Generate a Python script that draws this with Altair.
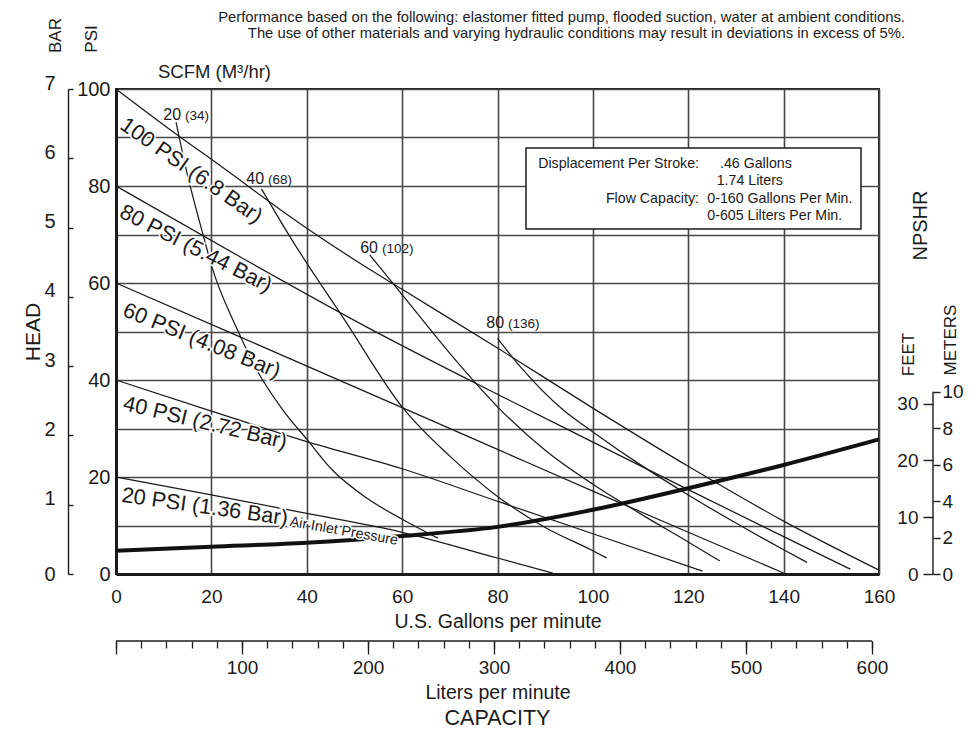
import altair as alt
import pandas as pd

FONT = "Liberation Sans"
INK = "#1b1b1b"
GRID = "#474747"
W, H = 763, 485

# ---------------- axis values ----------------
gpm_ticks = [0, 20, 40, 60, 80, 100, 120, 140, 160]
psi_grid = [0, 10, 20, 30, 40, 50, 60, 70, 80, 90, 100]
bar_ticks = [0, 1, 2, 3, 4, 5, 6, 7]
feet_ticks = [0, 10, 20, 30]
meter_ticks = [0, 2, 4, 6, 8, 10]
liter_major = [0, 100, 200, 300, 400, 500, 600]
liter_minor = [0, 20, 40, 60, 80, 100, 120, 140, 160, 180, 200, 220, 240, 260, 280, 300,
               320, 340, 360, 380, 400, 420, 440, 460, 480, 500, 520, 540, 560, 580, 600]

# ---------------- air inlet pressure curves (GPM, PSI head) ----------------
p100_gpm = [0, 13.3, 20, 40, 50, 60, 80, 100, 120, 140, 160]
p100_psi = [100, 90.2, 85.5, 71.3, 64.8, 58.7, 46.6, 34.2, 22.2, 10.9, 0.8]
p80_gpm = [0, 26, 53.2, 80.5, 100, 120, 140, 154]
p80_psi = [80, 65.4, 50.6, 36.8, 27.2, 17.4, 7.7, 1.0]
p60_gpm = [0, 26, 60, 80, 100, 120, 140]
p60_psi = [60, 48.9, 34.3, 25.7, 17.1, 8.6, 0.2]
p40_gpm = [0, 20, 40, 60, 80, 100, 123]
p40_psi = [40, 33.6, 27.3, 21.7, 15.0, 8.3, 0.6]
p20_gpm = [0, 20, 40, 60, 80, 91.6]
p20_psi = [20, 16.3, 12.5, 8.6, 3.3, 0.2]
pressure_labels = ["100 PSI (6.8 Bar)", "80 PSI (5.44 Bar)", "60 PSI (4.08 Bar)",
                   "40 PSI (2.72 Bar)", "20 PSI (1.36 Bar)"]

# ---------------- air consumption curves SCFM (GPM, PSI head) ----------------
a20_gpm = [12.6, 14.7, 18.3, 20, 25.3, 29.5, 35, 40, 45, 52.8, 60, 67.5]
a20_psi = [93.1, 83.5, 69.8, 63.7, 50.7, 42.1, 33.8, 27.8, 21.8, 15.5, 11.3, 7.4]
a40_gpm = [30.5, 36.5, 48, 60.2, 70, 80, 90, 100, 102.9]
a40_psi = [79.4, 69.5, 52.3, 34.2, 24.3, 16.0, 9.6, 4.8, 3.3]
a60_gpm = [53.2, 60, 70, 80.5, 90, 100, 110, 120, 126.6]
a60_psi = [65.8, 57.6, 45.5, 34.0, 25.5, 18.5, 12.4, 6.6, 2.7]
a80_gpm = [80, 85, 93.8, 100, 110, 120, 130, 140, 144.9]
a80_psi = [48.6, 42.5, 33.8, 29.3, 22.5, 16.3, 10.5, 5.0, 2.4]
scfm_values = ["20", "40", "60", "80"]
m3hr_values = ["(34)", "(68)", "(102)", "(136)"]

# ---------------- NPSHR curve (GPM, feet) ----------------
npshr_gpm = [0, 20, 40, 60, 80, 100, 120, 140, 160]
npshr_ft = [4.1, 4.8, 5.5, 6.7, 8.3, 11.3, 15.1, 19.2, 23.7]

# ---------------- text ----------------
note_1 = "Performance based on the following: elastomer fitted pump, flooded suction, water at ambient conditions."
note_2 = "The use of other materials and varying hydraulic conditions may result in deviations in excess of 5%."
box_keys = ["Displacement Per Stroke:", "Flow Capacity:"]
box_vals = [".46 Gallons", "1.74 Liters", "0-160 Gallons Per Min.", "0-605 Lilters Per Min."]

# ---------------- build tables ----------------
pressure_sets = [(p100_gpm, p100_psi), (p80_gpm, p80_psi), (p60_gpm, p60_psi),
                 (p40_gpm, p40_psi), (p20_gpm, p20_psi)]
air_sets = [(a20_gpm, a20_psi), (a40_gpm, a40_psi), (a60_gpm, a60_psi), (a80_gpm, a80_psi)]
rows = []
for name, (gs, ps) in zip(pressure_labels + scfm_values, pressure_sets + air_sets):
    for i, (g, p) in enumerate(zip(gs, ps)):
        rows.append({"curve": name, "gpm": g, "psi": p, "idx": i})
curves_df = pd.DataFrame(rows)
npshr_df = pd.DataFrame({"gpm": npshr_gpm, "ft": npshr_ft})

gpm_scale = alt.Scale(domain=[0, 160], nice=False)
psi_scale = alt.Scale(domain=[0, 100], nice=False)
feet_scale = alt.Scale(domain=[0, 85.4], nice=False)
meter_scale = alt.Scale(domain=[0, 26.6], nice=False)
bar_scale = alt.Scale(domain=[0, 7], nice=False)
liter_scale = alt.Scale(domain=[0, 160 * 3.785], nice=False)

gpm_axis = alt.Axis(values=gpm_ticks, grid=True, gridColor=GRID, gridWidth=1.6,
                    ticks=False, domain=True, domainColor=INK, domainWidth=3,
                    labelFontSize=19, labelPadding=13, labelFlush=False, labelOverlap=False,
                    title="U.S. Gallons per minute", titleFontSize=19.5,
                    titleY=47, titleBaseline="middle")
psi_axis = alt.Axis(values=psi_grid, labelExpr="datum.value % 20 === 0 ? datum.label : ''",
                    grid=True, gridColor=GRID, gridWidth=1.6, ticks=False,
                    domain=True, domainColor=INK, domainWidth=3,
                    labelFontSize=20, labelPadding=6, labelOverlap=False, labelFlush=False,
                    title="HEAD", titleFontSize=21, titleX=-83, titleY=H / 2,
                    titleAngle=270, titleAlign="center", titleBaseline="middle")

lines = alt.Chart(curves_df).mark_line(color=INK, strokeWidth=1.25, interpolate="monotone").encode(
    x=alt.X("gpm:Q", scale=gpm_scale, axis=gpm_axis),
    y=alt.Y("psi:Q", scale=psi_scale, axis=psi_axis),
    detail="curve:N", order="idx:Q")

layers = [lines]

# NPSHR curve with FEET axis
feet_axis = alt.Axis(orient="left", offset=-(W + 54), values=feet_ticks, tickSize=10, tickWidth=1.4,
                     tickColor=INK, labelPadding=5, labelFontSize=19, domain=False, grid=False,
                     labelOverlap=False, title="NPSHR", titleFontSize=20, titleX=-13, titleY=136,
                     titleAngle=270, titleAlign="center", titleBaseline="middle")
layers.append(alt.Chart(npshr_df).mark_line(color="#111111", strokeWidth=4, interpolate="monotone").encode(
    x=alt.X("gpm:Q", scale=gpm_scale, axis=None),
    y=alt.Y("ft:Q", scale=feet_scale, axis=feet_axis)))


def line_label(gpm, psi, text, size, ang, dx, dy):
    d = pd.DataFrame({"gpm": [gpm], "psi": [psi], "t": [text]})
    enc = dict(x=alt.X("gpm:Q", scale=gpm_scale, axis=None),
               y=alt.Y("psi:Q", scale=psi_scale, axis=None), text="t:N")
    common = dict(font=FONT, fontSize=size, align="left", baseline="top", angle=ang, dx=dx, dy=dy)
    halo = alt.Chart(d).mark_text(fill="white", stroke="white", strokeWidth=3, **common).encode(**enc)
    ink = alt.Chart(d).mark_text(color=INK, **common).encode(**enc)
    return [halo, ink]


# pressure labels, placed along each line from its starting point: (angle, dx, dy)
label_style = [(35, 24.7, 13.3), (27, 15.8, 9.3), (22, 17.4, 11.1), (13.5, 12.9, 10.5), (8, 8.3, 6.9)]
for text, (gs, ps), (ang, dx, dy) in zip(pressure_labels, pressure_sets, label_style):
    layers += line_label(gs[0], ps[0], text, 21.7, ang, dx, dy)
layers += line_label(p20_gpm[0], p20_psi[0], "Air Inlet Pressure", 14.3, 10, 179, 7)

# SCFM labels at the start of each air curve
scfm_offsets = [(5, -2.6), (2.6, -5), (8.3, -1.7), (6.6, -10)]
for num, m3, (gs, ps), (ox, oy) in zip(scfm_values, m3hr_values, air_sets, scfm_offsets):
    d = pd.DataFrame({"gpm": [gs[0]], "psi": [ps[0]], "n": [num], "m": [m3]})
    enc = dict(x=alt.X("gpm:Q", scale=gpm_scale, axis=None),
               y=alt.Y("psi:Q", scale=psi_scale, axis=None))
    layers.append(alt.Chart(d).mark_text(font=FONT, fontSize=16, color=INK, align="right",
                                         baseline="alphabetic", dx=ox, dy=oy).encode(text="n:N", **enc))
    layers.append(alt.Chart(d).mark_text(font=FONT, fontSize=13.5, color=INK, align="left",
                                         baseline="alphabetic", dx=ox + 4, dy=oy).encode(text="m:N", **enc))

# METERS axis with its line
meter_axis = alt.Axis(orient="right", offset=54, values=meter_ticks, tickSize=7, tickWidth=1.4,
                      tickColor=INK, labelPadding=2, labelFontSize=19, domain=False, grid=False,
                      labelOverlap=False, title=None)
md = pd.DataFrame({"m0": [meter_ticks[0]], "m1": [meter_ticks[-1]]})
layers.append(alt.Chart(md).mark_rule(color=INK, strokeWidth=1.4).encode(
    y=alt.Y("m0:Q", scale=meter_scale, axis=meter_axis), y2="m1:Q", x=alt.value(W + 54)))

# BAR axis
bar_axis = alt.Axis(orient="right", offset=-(W + 48), values=bar_ticks, tickSize=5, tickWidth=1.4,
                    tickColor=INK, domain=True, domainColor=INK, domainWidth=1.4,
                    labelAlign="right", labelPadding=-18,
                    labelBaseline={"condition": {"test": "datum.value === 0", "value": "middle"},
                                   "value": "alphabetic"},
                    labelFontSize=20, grid=False, labelOverlap=False, labelFlush=False, title=None)
layers.append(alt.Chart(pd.DataFrame({"bar": bar_ticks})).mark_point(opacity=0).encode(
    y=alt.Y("bar:Q", scale=bar_scale, axis=bar_axis), x=alt.value(0)))

# Liters axis (minor ticks + line)
ld = pd.DataFrame({"l0": [liter_major[0]], "l1": [liter_major[-1]]})
minor_axis = alt.Axis(orient="bottom", offset=67, values=liter_minor, tickSize=7, tickWidth=1.3,
                      tickColor=INK, labels=False, domain=False, grid=False, title=None)
layers.append(alt.Chart(ld).mark_rule(color=INK, strokeWidth=1.4).encode(
    x=alt.X("l0:Q", scale=liter_scale, axis=minor_axis), x2="l1:Q", y=alt.value(H + 67)))
major_axis = alt.Axis(orient="bottom", offset=67, values=liter_major, tickSize=13, tickWidth=1.3,
                      tickColor=INK, labelExpr="datum.value === 0 ? '' : datum.label",
                      labelPadding=4, labelFontSize=19, labelFlush=False, labelOverlap=False,
                      domain=False, grid=False, title="Liters per minute", titleFontSize=19.5,
                      titleY=51, titleBaseline="middle")
layers.append(alt.Chart(pd.DataFrame({"l": liter_major})).mark_point(opacity=0).encode(
    x=alt.X("l:Q", scale=liter_scale, axis=major_axis), y=alt.value(0)))


def note(s, x, y, size, angle=0, align="center", baseline="middle"):
    kw = dict(font=FONT, fontSize=size, align=align, baseline=baseline, color=INK)
    if angle:
        kw["angle"] = angle
    return alt.Chart(pd.DataFrame({"t": [s]})).mark_text(**kw).encode(
        text="t:N", x=alt.value(x), y=alt.value(y))


# info box
layers.append(alt.Chart(pd.DataFrame({"a": [0]})).mark_rect(fill="white", stroke=INK, strokeWidth=1.5).encode(
    x=alt.value(410), x2=alt.value(745), y=alt.value(59), y2=alt.value(140)))
layers += [
    note(box_keys[0], 583, 75, 14.2, align="right"),
    note(box_vals[0], 604, 75, 14.2, align="left"),
    note(box_vals[1], 600.7, 91.7, 14.2, align="left"),
    note(box_keys[1], 583, 110, 14.2, align="right"),
    note(box_vals[2], 591.3, 110, 14.2, align="left"),
    note(box_vals[3], 591.3, 127, 14.2, align="left"),
]

# free text
layers += [
    note(note_1, 789, -67, 14.8, align="right", baseline="alphabetic"),
    note(note_2, 789, -51.5, 14.8, align="right", baseline="alphabetic"),
    note("BAR", -60.5, -53.5, 17, angle=270),
    note("PSI", -24.5, -50, 17, angle=270),
    note("SCFM (M³/hr)", 42, -11, 18.5, align="left", baseline="alphabetic"),
    note("FEET", 792.5, 265.5, 17, angle=270),
    note("METERS", 834.5, 251, 17, angle=270),
    note("CAPACITY", W / 2, 630, 21.5),
]

chart = alt.layer(*layers).resolve_scale(x="independent", y="independent").properties(
    width=W, height=H,
    padding={"left": 108, "top": 81, "right": 88, "bottom": 158},
    autosize=alt.AutoSizeParams(type="none"),
).configure_view(stroke=INK, strokeWidth=2).configure_axis(
    labelFont=FONT, titleFont=FONT, labelColor=INK, titleColor=INK, titleFontWeight="normal")

chart.save("out.html", embed_options={"renderer": "svg", "actions": False})
